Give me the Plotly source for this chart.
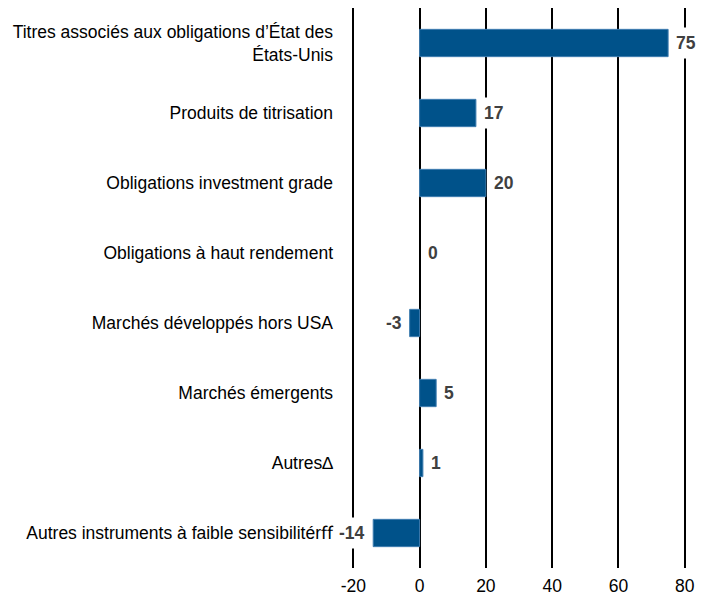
import plotly.graph_objects as go

categories = [
    "Titres associés aux obligations d’État des<br>États-Unis",
    "Produits de titrisation",
    "Obligations investment grade",
    "Obligations à haut rendement",
    "Marchés développés hors USA",
    "Marchés émergents",
    "Autres∆",
    "Autres instruments à faible sensibilitérﬀ",
]
values = [75, 17, 20, 0, -3, 5, 1, -14]
tick_vals = [-20, 0, 20, 40, 60, 80]
tick_text = ["-20", "0", "20", "40", "60", "80"]

FONT = "Liberation Sans, Arial, sans-serif"

fig = go.Figure(go.Bar(
    x=values, y=categories, orientation="h",
    marker=dict(color="#00528A",
                line=dict(color="#3F7DB0",
                          width=[0 if v == 0 else 1 for v in values])),
    width=0.39,
    hoverinfo="skip",
))

for c, v in zip(categories, values):
    pos = v >= 0
    fig.add_annotation(
        x=v, y=c, xref="x", yref="y",
        text="<b>%d</b>" % v,
        showarrow=False,
        xanchor="left" if pos else "right",
        xshift=2 if pos else -2,
        bgcolor="white", borderpad=5,
        font=dict(family=FONT, size=17.5, color="#404040"),
    )

fig.update_layout(
    width=702, height=596,
    margin=dict(l=342, r=22, t=0, b=36),
    paper_bgcolor="white", plot_bgcolor="white",
    showlegend=False,
    font=dict(family=FONT, size=17, color="black"),
    xaxis=dict(
        range=[-21, 81], tickvals=tick_vals, ticktext=tick_text,
        showgrid=True, gridcolor="black", gridwidth=2,
        zeroline=False, showline=False, ticks="",
        ticklabelstandoff=5,
        tickfont=dict(family=FONT, size=17.5, color="black"),
        automargin=False, fixedrange=True,
    ),
    yaxis=dict(
        categoryorder="array", categoryarray=categories,
        autorange="reversed",
        showgrid=False, zeroline=False, showline=False, ticks="",
        ticklabelstandoff=16,
        tickfont=dict(family=FONT, size=17.5, color="black"),
        automargin=False, fixedrange=True,
    ),
)

fig.write_html("out.html")
